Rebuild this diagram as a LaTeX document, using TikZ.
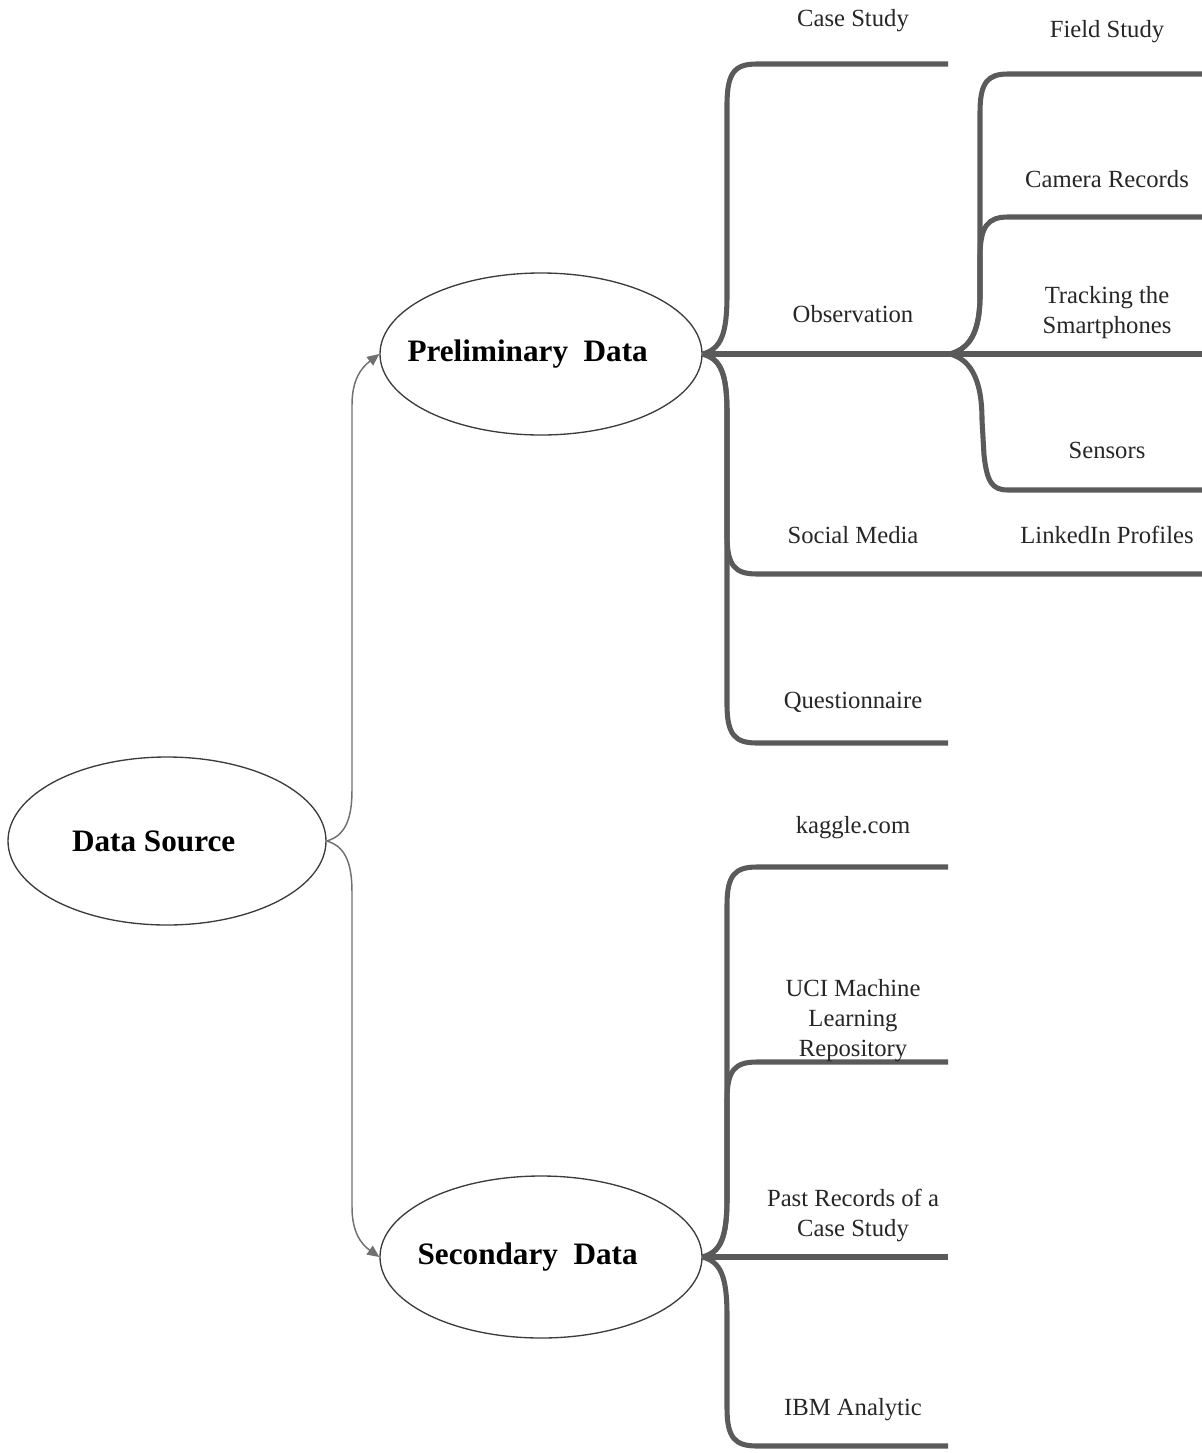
\documentclass[tikz,border=0pt]{standalone}
\usepackage{fontspec}
\setmainfont{Liberation Serif}
\usetikzlibrary{shapes.geometric,arrows.meta}
\definecolor{branchgray}{HTML}{5A5A5A}
\definecolor{linkgray}{HTML}{707070}
\definecolor{rimgray}{HTML}{3C3C3C}
\begin{document}
\begin{tikzpicture}[x=0.75pt,y=-0.75pt,
    topic/.style={ellipse,draw=rimgray,line width=1pt,inner xsep=-40pt,inner ysep=0pt,
      minimum width=241.5pt,minimum height=121.5pt,
      font=\bfseries\fontsize{23.4}{28}\selectfont},
    link/.style={draw=linkgray,line width=1.1pt,-{Triangle[length=9pt,width=8pt]}},
    branch/.style={draw=branchgray,line width=3.8pt},
    leaf/.style={align=center,text=black!85,font=\fontsize{18.5}{22.5}\selectfont}]

    \useasboundingbox (0,0) rectangle (1202,1453);

    % the three ellipses
    \node[topic,minimum width=238.5pt,minimum height=126pt] (src) at (167,841) {Data Source\kern20pt};
    \node[topic] (prelim) at (541,354) {Preliminary~ Data\kern20pt};
    \node[topic] (second) at (541,1257) {Secondary~ Data\kern20pt};

    \draw[link] (src.east) .. controls +(18,-5) and +(0,30) .. (352,790)
      -- (352,405) .. controls (352,380) and (361,368) .. (prelim.west);
    \draw[link] (src.east) .. controls +(18,5) and +(0,-30) .. (352,892)
      -- (352,1207) .. controls (352,1232) and (361,1244) .. (second.west);

    % ends of the branch lines
    \coordinate (case-end) at (948,64);
    \coordinate (obs-hub) at (950,354);
    \coordinate (social-end) at (948,574);
    \coordinate (quest-end) at (948,743);
    \coordinate (field-end) at (1202,74);
    \coordinate (camera-end) at (1202,217);
    \coordinate (track-end) at (1202,354);
    \coordinate (sensor-end) at (1202,490);
    \coordinate (linkedin-end) at (1202,574);
    \coordinate (kaggle-end) at (948,867);
    \coordinate (uci-end) at (948,1062);
    \coordinate (past-end) at (948,1257);
    \coordinate (ibm-end) at (948,1446);

    % preliminary data
    \draw[branch] (prelim.east) .. controls +(18,-5) and +(0,40) .. (727,295)
      -- (727,105) .. controls (727,72) and (735,64) .. (757,64) -- (case-end);
    \draw[branch] (prelim.east) -- (obs-hub) -- (track-end);
    \draw[branch] (prelim.east) .. controls +(18,5) and +(0,-40) .. (727,413)
      -- (727,535) .. controls (727,566) and (735,574) .. (757,574)
      -- (social-end) -- (linkedin-end);
    \draw[branch] (prelim.east) .. controls +(18,5) and +(0,-40) .. (727,413)
      -- (727,704) .. controls (727,735) and (735,743) .. (757,743) -- (quest-end);

    % observation
    \draw[branch] (obs-hub) .. controls +(18,-5) and +(0,40) .. (980,295)
      -- (980,112) .. controls (980,82) and (988,74) .. (1008,74) -- (field-end);
    \draw[branch] (obs-hub) .. controls +(18,-5) and +(0,40) .. (980,295)
      -- (980,257) .. controls (980,226) and (988,217) .. (1008,217) -- (camera-end);
    \draw[branch] (obs-hub) .. controls +(18,5) and +(0,-45) .. (982,420)
      -- (984,455) .. controls (987,482) and (992,490) .. (1008,490) -- (sensor-end);

    % secondary data
    \draw[branch] (second.east) .. controls +(18,-5) and +(0,40) .. (727,1198)
      -- (727,905) .. controls (727,875) and (735,867) .. (757,867) -- (kaggle-end);
    \draw[branch] (second.east) .. controls +(18,-5) and +(0,40) .. (727,1198)
      -- (727,1100) .. controls (727,1070) and (735,1062) .. (757,1062) -- (uci-end);
    \draw[branch] (second.east) -- (past-end);
    \draw[branch] (second.east) .. controls +(18,5) and +(0,-40) .. (727,1316)
      -- (727,1408) .. controls (727,1438) and (735,1446) .. (757,1446) -- (ibm-end);

    % labels
    \node[leaf] (case) at (853,21) {Case Study};
    \node[leaf] (obs) at (853,314) {Observation};
    \node[leaf] (social) at (853,535) {Social Media};
    \node[leaf] (quest) at (853,702) {Questionnaire};
    \node[leaf] (field) at (1107,32) {Field Study};
    \node[leaf] (camera) at (1107,179) {Camera Records};
    \node[leaf] (track) at (1107,313) {Tracking the\\Smartphones};
    \node[leaf] (sensor) at (1107,450) {Sensors};
    \node[leaf] (linkedin) at (1107,535) {LinkedIn Profiles};
    \node[leaf] (kaggle) at (853,828) {kaggle.com};
    \node[leaf] (uci) at (853,1021) {UCI Machine\\Learning\\Repository};
    \node[leaf] (past) at (853,1215) {Past Records of a\\Case Study};
    \node[leaf] (ibm) at (853,1410) {IBM Analytic};
  \end{tikzpicture}
\end{document}
